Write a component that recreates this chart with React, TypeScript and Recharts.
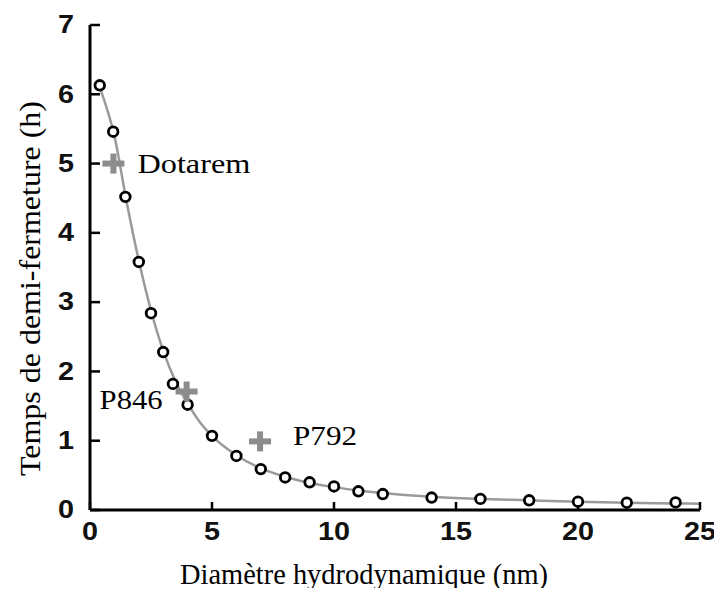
import React from 'react';
import { ComposedChart, XAxis, YAxis, Line, Scatter } from 'recharts';

// measured points (hydrodynamic diameter in nm, half-closing time in h)
const diameterNm = [0.4, 0.95, 1.45, 2, 2.5, 3, 3.4, 4, 5, 6, 7, 8, 9, 10, 11, 12, 14, 16, 18, 20, 22, 24];
const halfTimeH = [6.13, 5.46, 4.52, 3.58, 2.84, 2.28, 1.82, 1.52, 1.07, 0.78, 0.59, 0.47, 0.4, 0.34, 0.27, 0.23, 0.18, 0.16, 0.14, 0.12, 0.105, 0.11];

// fitted curve
const curveX = [0.45, 1, 1.5, 2, 2.5, 3, 3.5, 4, 4.5, 5, 6, 7, 8, 9, 10, 11, 12, 14, 16, 18, 20, 22, 24, 25];
const curveY = [6.05, 5.4, 4.45, 3.6, 2.88, 2.3, 1.86, 1.54, 1.27, 1.07, 0.79, 0.6, 0.48, 0.39, 0.33, 0.28, 0.245, 0.19, 0.16, 0.14, 0.12, 0.105, 0.095, 0.09];

// contrast agents
const agentNames = ['Dotarem', 'P846', 'P792'];
const agentX = [0.96, 3.96, 6.97];
const agentY = [5.0, 1.71, 0.99];

const xTicks = [0, 5, 10, 15, 20, 25];
const yTicks = [0, 1, 2, 3, 4, 5, 6, 7];

const points = diameterNm.map((x, i) => ({ x, y: halfTimeH[i] }));
const curve = curveX.map((x, i) => ({ x, y: curveY[i] }));
const agents = agentNames.map((name, i) => ({ name, x: agentX[i], y: agentY[i] }));

const SERIF = "'Liberation Serif', 'Times New Roman', serif";
const SANS = "'Liberation Sans', Arial, sans-serif";

// label placement around each cross
const labelPlacement: Record<string, { dx: number; dy: number; anchor: 'start' | 'end'; len: number }> = {
  Dotarem: { dx: 24, dy: 9, anchor: 'start', len: 113 },
  P846: { dx: -24, dy: 17, anchor: 'end', len: 63 },
  P792: { dx: 33, dy: 4, anchor: 'start', len: 64 },
};

const CircleDot = (p: any) => (
  <circle cx={p.cx} cy={p.cy} r={4.8} fill="#fff" stroke="#000" strokeWidth={2.8} />
);

const CrossMark = (p: any) => {
  const pl = labelPlacement[p.payload.name];
  return (
    <g>
      <rect x={p.cx - 11} y={p.cy - 3} width={22} height={6} fill="#8c8c8c" />
      <rect x={p.cx - 3} y={p.cy - 10} width={6} height={20} fill="#8c8c8c" />
      <text
        x={p.cx + pl.dx}
        y={p.cy + pl.dy}
        textAnchor={pl.anchor}
        fontFamily={SERIF}
        fontSize={28}
        fill="#000"
        textLength={pl.len}
        lengthAdjust="spacingAndGlyphs"
      >
        {p.payload.name}
      </text>
    </g>
  );
};

const XTick = (p: any) => (
  <text
    transform={`translate(${p.x},${p.y}) scale(1.15,1)`}
    textAnchor="middle"
    dominantBaseline="central"
    fontFamily={SANS}
    fontWeight="bold"
    fontSize={25}
    fill="#111"
  >
    {p.payload.value}
  </text>
);

const YTick = (p: any) => (
  <text
    transform={`translate(${p.x},${p.y}) scale(1.15,1)`}
    textAnchor="end"
    dominantBaseline="central"
    fontFamily={SANS}
    fontWeight="bold"
    fontSize={25}
    fill="#111"
  >
    {p.payload.value}
  </text>
);

const XTitle = (p: any) => {
  const vb = p.viewBox;
  return (
    <text
      x={vb.x + 90}
      y={vb.y + 74}
      fontFamily={SERIF}
      fontSize={29}
      fill="#000"
      textLength={368}
      lengthAdjust="spacingAndGlyphs"
    >
      Diamètre hydrodynamique (nm)
    </text>
  );
};

const YTitle = (p: any) => {
  const vb = p.viewBox;
  const cx = vb.x + 10;
  const cy = vb.y + vb.height / 2 + 21;
  return (
    <text
      x={cx}
      y={cy}
      transform={`rotate(-90, ${cx}, ${cy})`}
      textAnchor="middle"
      fontFamily={SERIF}
      fontSize={30}
      fill="#000"
      textLength={375}
      lengthAdjust="spacingAndGlyphs"
    >
      Temps de demi-fermeture (h)
    </text>
  );
};

export default function App() {
  return (
    <div style={{ width: 714, height: 588, marginBottom: -8, background: '#fff' }}>
      <ComposedChart width={714} height={588} margin={{ top: 17, right: 22, left: 22, bottom: 26 }}>
        <XAxis
          type="number"
          dataKey="x"
          domain={[0, 25]}
          ticks={xTicks}
          interval={0}
          height={60}
          axisLine={{ stroke: '#000', strokeWidth: 3 }}
          tickLine={{ stroke: '#000', strokeWidth: 2.5 }}
          tickSize={-8}
          tickMargin={30}
          tick={<XTick />}
          label={XTitle}
        />
        <YAxis
          type="number"
          dataKey="y"
          domain={[0, 7]}
          ticks={yTicks}
          interval={0}
          width={60}
          axisLine={{ stroke: '#000', strokeWidth: 3 }}
          tickLine={{ stroke: '#000', strokeWidth: 2.5 }}
          tickSize={-10}
          tickMargin={26}
          tick={<YTick />}
          label={YTitle}
        />
        <Line
          data={curve}
          dataKey="y"
          type="monotone"
          stroke="#9a9a9a"
          strokeWidth={2.5}
          dot={false}
          activeDot={false}
          isAnimationActive={false}
        />
        <Scatter data={points} dataKey="y" shape={CircleDot} isAnimationActive={false} />
        <Scatter data={agents} dataKey="y" shape={CrossMark} isAnimationActive={false} />
      </ComposedChart>
    </div>
  );
}
